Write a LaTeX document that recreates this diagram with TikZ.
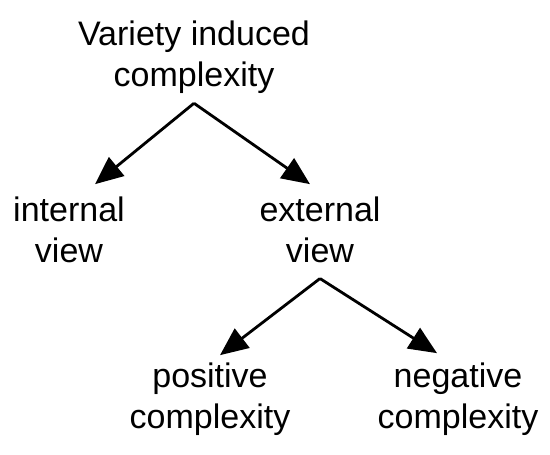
\documentclass[tikz,border=0pt]{standalone}
\usepackage{fontspec}
\setmainfont{Liberation Sans}
\usepackage{tikz}
\usetikzlibrary{arrows.meta,positioning}

\begin{document}
\begin{tikzpicture}[x=1pt, y=-1pt,
    label/.style={inner sep=0pt, align=center, anchor=base, font=\fontsize{34}{41}\selectfont},
    arrow/.style={-{Triangle[length=28pt,width=24pt]}, line width=2.8pt}]
\useasboundingbox (0,0) rectangle (550,455);

\node[label] (V) at (194,86) {Variety induced\\complexity};
\node[label] (I) at (69,262) {internal\\view};
\node[label] (E) at (320,262) {external\\view};
\node[label] (P) at (210,428) {positive\\complexity};
\node[label] (N) at (458,428) {negative\\complexity};

\draw[arrow] ([yshift=-10pt]V.south) -- ([xshift=26pt, yshift=12pt]I.north);
\draw[arrow] ([yshift=-10pt]V.south) -- ([xshift=-10pt, yshift=12pt]E.north);
\draw[arrow] ([yshift=-16pt]E.south) -- ([xshift=10pt, yshift=7pt]P.north);
\draw[arrow] ([yshift=-16pt]E.south) -- ([xshift=-21pt, yshift=9pt]N.north);
\end{tikzpicture}
\end{document}
